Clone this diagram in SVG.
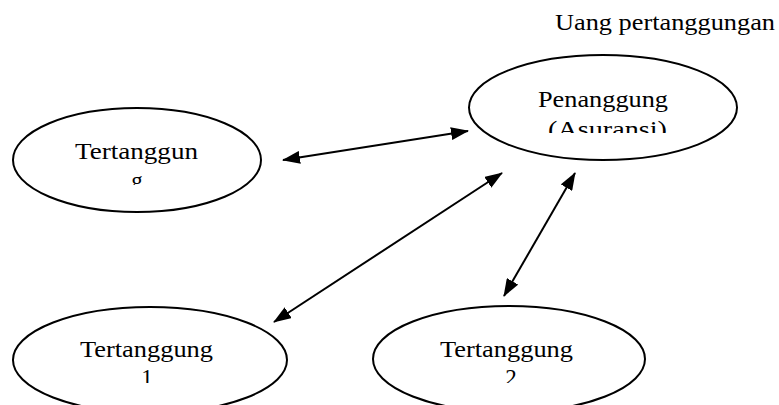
<svg xmlns="http://www.w3.org/2000/svg" width="779" height="405" viewBox="0 0 779 405">
<style>
.node ellipse{fill:#fff;stroke:#000;stroke-width:2}
text{font-family:"Liberation Serif","Times New Roman",serif;font-size:23px;fill:#000}
.c line{stroke:#000;stroke-width:2;marker-start:url(#ah);marker-end:url(#ah)}
</style>
<defs>
<marker id="ah" viewBox="0 0 18 13" refX="17" refY="6.5" markerWidth="18" markerHeight="13" markerUnits="userSpaceOnUse" orient="auto-start-reverse">
<path d="M0,0 L18,6.5 L0,13 z" fill="#000"/>
</marker>
<clipPath id="c1"><rect x="0" y="0" width="779" height="185"/></clipPath>
<clipPath id="c2"><rect x="0" y="0" width="779" height="133"/></clipPath>
<clipPath id="c3"><rect x="0" y="0" width="779" height="383"/></clipPath>
</defs>
<rect width="779" height="405" fill="#fff"/>
<text id="label" x="555" y="30" textLength="220" lengthAdjust="spacingAndGlyphs">Uang pertanggungan</text>
<g id="tertanggung" class="node">
<ellipse cx="137" cy="160" rx="124" ry="52"/>
<g clip-path="url(#c1)">
<text x="75" y="159" textLength="123" lengthAdjust="spacingAndGlyphs">Tertanggun</text>
<text x="137" y="188" text-anchor="middle">g</text>
</g>
</g>
<g id="penanggung" class="node">
<ellipse cx="603" cy="107.5" rx="134" ry="52.5"/>
<g clip-path="url(#c2)">
<text x="538" y="107" textLength="130" lengthAdjust="spacingAndGlyphs">Penanggung</text>
<text x="548" y="137" textLength="119" lengthAdjust="spacingAndGlyphs">(Asuransi)</text>
</g>
</g>
<g id="tertanggung1" class="node">
<ellipse cx="150" cy="360" rx="137" ry="53"/>
<g clip-path="url(#c3)">
<text x="80" y="357" textLength="133" lengthAdjust="spacingAndGlyphs">Tertanggung</text>
<text x="147" y="385" text-anchor="middle">1</text>
</g>
</g>
<g id="tertanggung2" class="node">
<ellipse cx="509" cy="359" rx="136" ry="53"/>
<g clip-path="url(#c3)">
<text x="440" y="357" textLength="133" lengthAdjust="spacingAndGlyphs">Tertanggung</text>
<text x="511" y="385" text-anchor="middle">2</text>
</g>
</g>
<g id="connectors" class="c">
<line x1="283" y1="160" x2="468" y2="131"/>
<line x1="274" y1="322" x2="502" y2="173"/>
<line x1="504" y1="296" x2="575" y2="173"/>
</g>
</svg>
